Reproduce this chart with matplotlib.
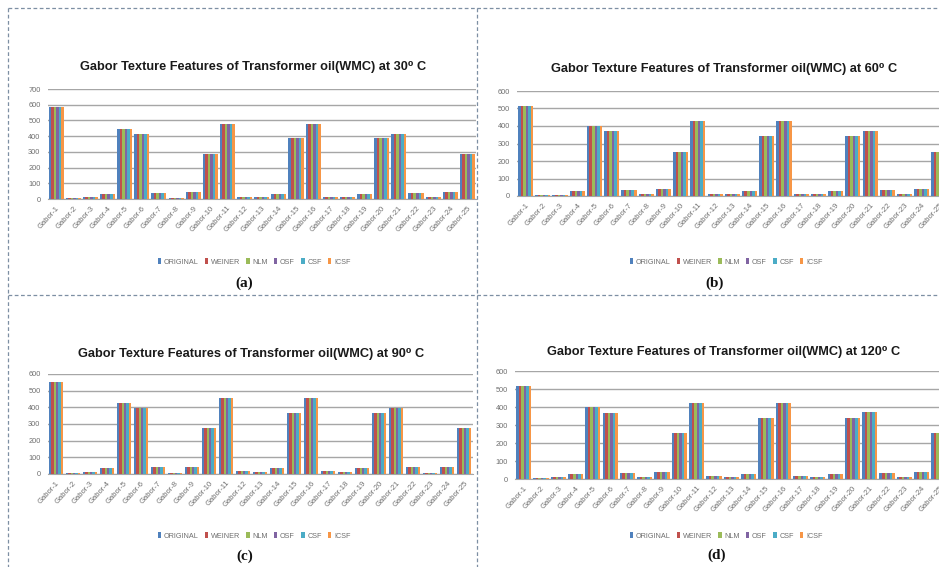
import matplotlib
matplotlib.use('Agg')
import matplotlib.pyplot as plt
from matplotlib.lines import Line2D
import numpy as np

# data (all six filters give nearly the same value)
features = ['Gabor-%d' % i for i in range(1, 26)]
methods = ['ORIGINAL', 'WEINER', 'NLM', 'OSF', 'CSF', 'ICSF']
colors = ['#4F81BD', '#C0504D', '#9BBB59', '#8064A2', '#4BACC6', '#F79646']

temps = ['30', '60', '90', '120']
vals_30 = [583, 5, 15, 32, 448, 416, 38, 9, 47, 289, 480, 15, 10, 33, 386,
           480, 15, 10, 33, 386, 416, 40, 10, 47, 289]
vals_60 = [517, 5, 8, 30, 399, 370, 34, 9, 40, 252, 426, 13, 9, 28, 344,
           426, 13, 9, 28, 344, 370, 34, 9, 40, 252]
vals_90 = [553, 5, 12, 35, 425, 398, 40, 9, 45, 275, 455, 16, 11, 35, 365,
           455, 16, 11, 35, 365, 398, 40, 9, 45, 275]
vals_120 = [518, 4, 9, 30, 398, 368, 34, 9, 41, 254, 424, 14, 9, 30, 341,
            424, 14, 9, 30, 341, 370, 34, 9, 41, 254]
panel_vals = [vals_30, vals_60, vals_90, vals_120]
ymax = [700, 600, 600, 600]
panel_tags = ['(a)', '(b)', '(c)', '(d)']

W, H = 939, 567
fig = plt.figure(figsize=(W / 100, H / 100), dpi=100)

title_font = ['Liberation Sans', 'DejaVu Sans']
small_font = ['Liberation Sans', 'DejaVu Sans']
gray = '#6e6e6e'

# pixel layout of each panel: axes left, right, top, bottom; title; legend; tag
layout = [
    dict(ax=(47.5, 476, 89, 199), xr=None, title=(253, 67), leg=(254, 262), tag=(244, 283)),
    dict(ax=(517, 939, 91, 196), xr=23.82, title=(724, 69), leg=(726, 262), tag=(715, 283)),
    dict(ax=(47.5, 472.5, 374, 474), xr=None, title=(251, 354), leg=(254, 536), tag=(245, 556)),
    dict(ax=(515, 939, 371, 479), xr=23.87, title=(724, 352), leg=(726, 536), tag=(717, 555)),
]

x = np.arange(len(features))
group = 0.88
bw = group / len(methods)

for k in range(4):
    lay = layout[k]
    l, r, t, b = lay['ax']
    ax = fig.add_axes([l / W, 1 - b / H, (r - l) / W, (b - t) / H])
    handles = []
    for j, m in enumerate(methods):
        pos = x - group / 2 + bw * (j + 0.5)
        bars = ax.bar(pos, panel_vals[k], width=bw, color=colors[j], label=m,
                      linewidth=0, zorder=3)
        handles.append(bars)
    ax.set_ylim(0, ymax[k])
    ax.set_yticks(range(0, ymax[k] + 1, 100))
    ax.set_xlim(-0.5, lay['xr'] if lay['xr'] else len(features) - 0.5)
    ax.set_xticks(x)
    ax.set_xticklabels(features, rotation=48, ha='right', rotation_mode='anchor',
                       fontsize=5.5, color=gray, family=small_font)
    for lab in ax.get_yticklabels():
        lab.set_fontsize(5.3)
        lab.set_color(gray)
        lab.set_family(small_font)
    ax.tick_params(axis='both', length=0, pad=4)
    ax.tick_params(axis='y', pad=5)
    ax.grid(axis='y', color='#a6a6a6', linewidth=1.0, zorder=0)
    for s in ['left', 'right', 'top']:
        ax.spines[s].set_visible(False)
    ax.spines['bottom'].set_color('#a6a6a6')
    ax.set_facecolor('none')

    tx, ty = lay['title']
    fig.text(tx / W, 1 - ty / H,
             'Gabor Texture Features of Transformer oil(WMC) at %s\u2070 C' % temps[k],
             ha='center', va='center', fontsize=9.2, fontweight='bold',
             color='#1a1a1a', family=title_font)

    lx, ly = lay['leg']
    fig.legend(handles=handles, labels=methods, loc='center',
               bbox_to_anchor=(lx / W, 1 - ly / H), ncol=6, frameon=False,
               handlelength=0.5, handleheight=0.7,
               handletextpad=0.35, columnspacing=0.85, labelcolor=gray,
               prop={'family': small_font, 'size': 5.2})

    gx, gy = lay['tag']
    fig.text(gx / W, 1 - gy / H, panel_tags[k], ha='center', va='center',
             fontsize=11, fontweight='bold', color='#111111',
             family=['Liberation Serif', 'DejaVu Serif'])

# dashed frame lines around the panels
dash = dict(color='#7d8fa3', linewidth=0.9, linestyle=(0, (3, 2)))
for (x0, y0, x1, y1) in [(8, 8, 939, 8), (8, 8, 8, 567), (477, 8, 477, 567), (8, 295, 939, 295)]:
    fig.add_artist(Line2D([x0 / W, x1 / W], [1 - y0 / H, 1 - y1 / H],
                          transform=fig.transFigure, **dash))

plt.savefig('out.png', dpi=100)
